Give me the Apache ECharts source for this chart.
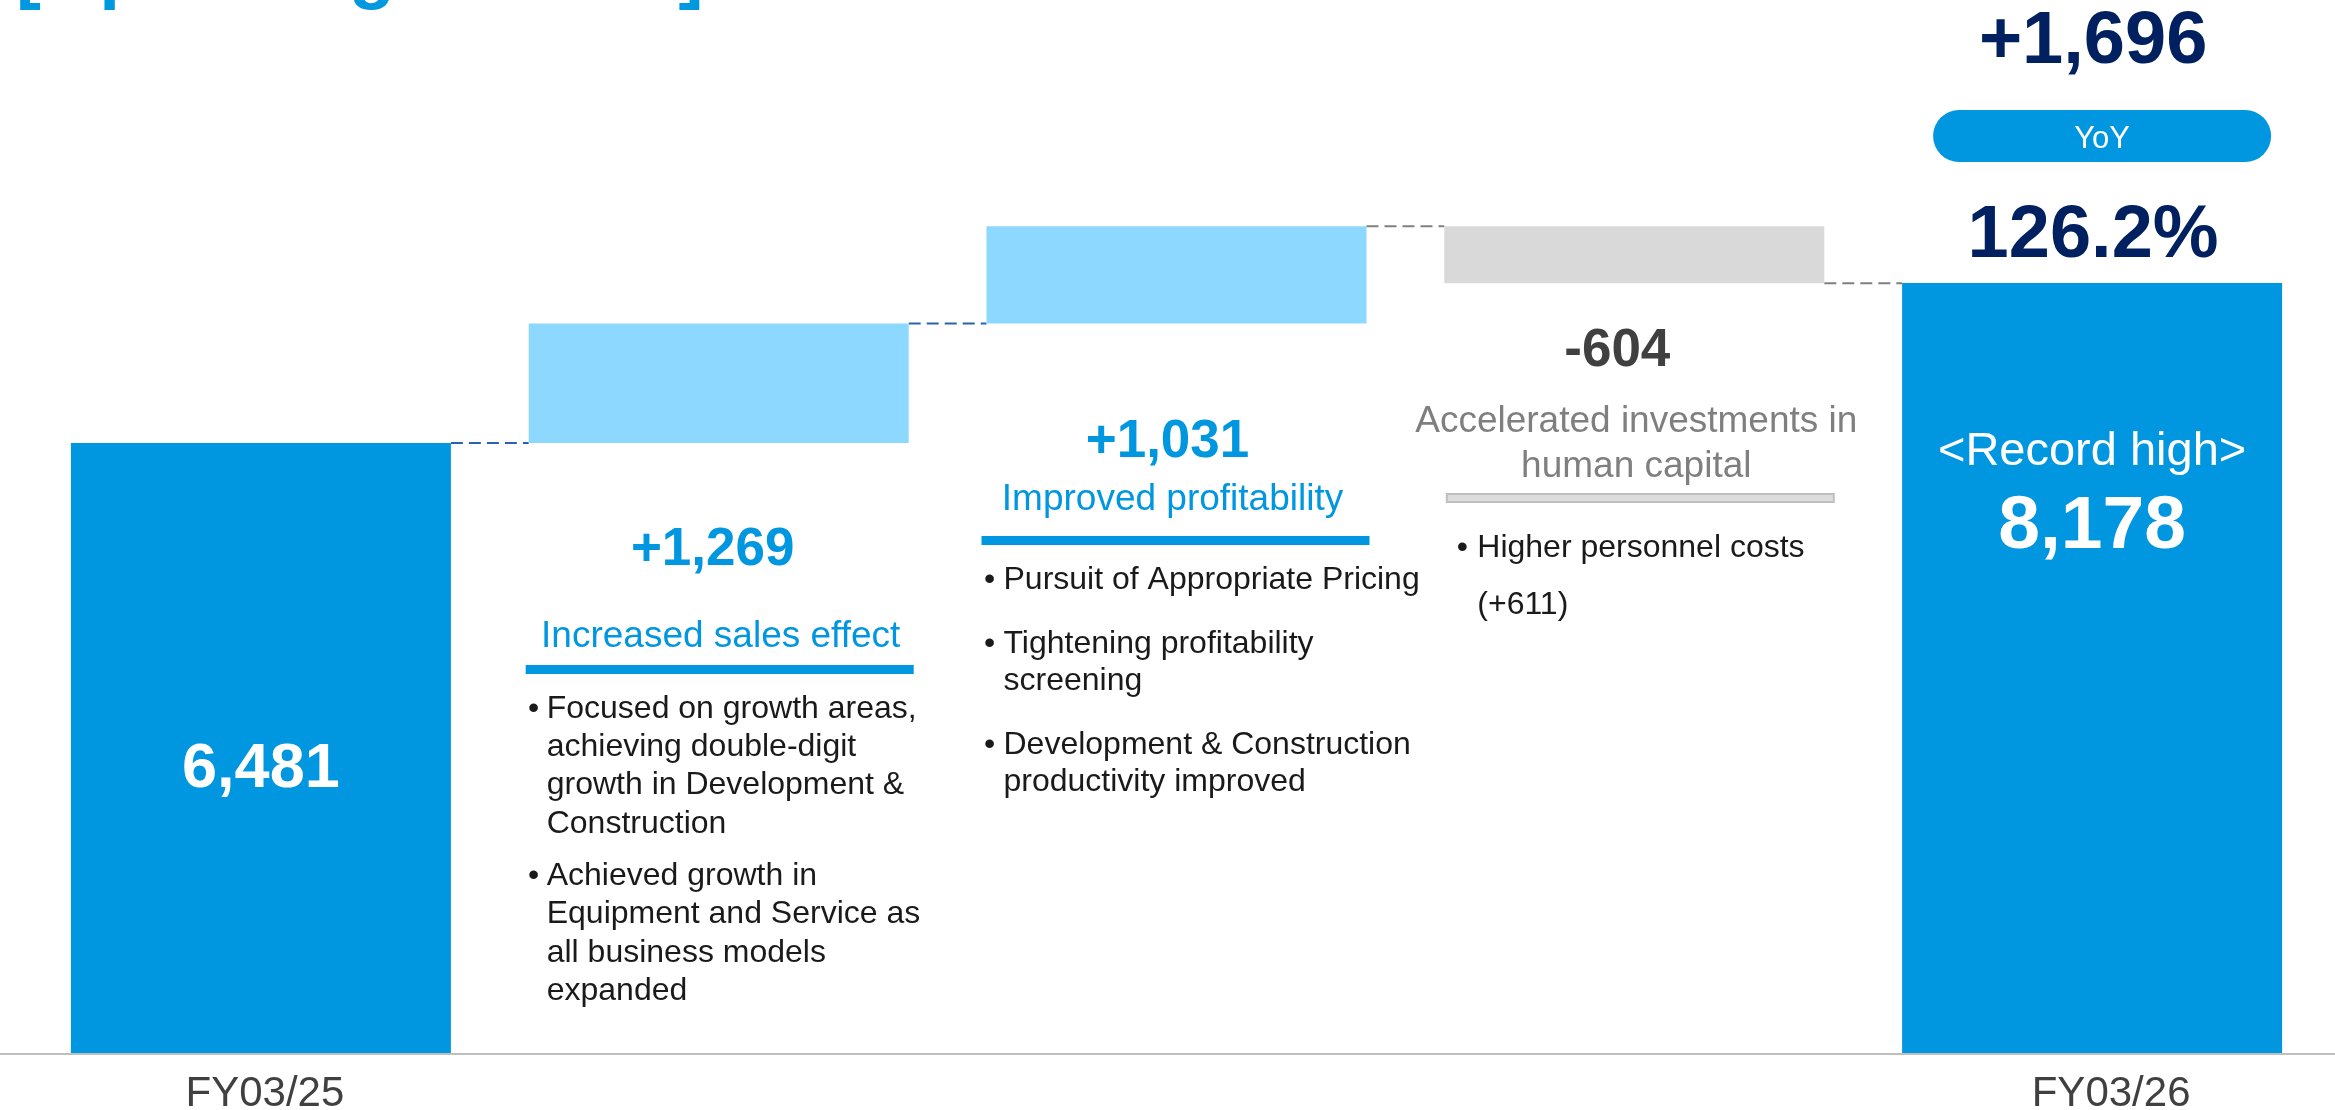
<!DOCTYPE html>
<html>
<head>
<meta charset="utf-8">
<script src="https://cdn.jsdelivr.net/npm/echarts@6/dist/echarts.min.js"></script>
<style>
  html, body { margin: 0; padding: 0; background: #ffffff; }
  #chart { width: 2335px; height: 1110px; }
</style>
</head>
<body>
<div id="chart"></div>
<script>
// ---- Operating income bridge, FY03/25 -> FY03/26 (units as reported) ----
const categories = ['FY03/25', 'Increased sales effect', 'Improved profitability',
                    'Accelerated investments in human capital', 'FY03/26'];
const startValue = 6481;
const deltas = [1269, 1031, -604];
const endValue = 8178;

const deltaLabels = ['+1,269', '+1,031', '-604'];
const driverTitles = [
  ['Increased sales effect'],
  ['Improved profitability'],
  ['Accelerated investments in', 'human capital']
];
const driverNotes = [
  [
    ['Focused on growth areas,', 'achieving double-digit', 'growth in Development &', 'Construction'],
    ['Achieved growth in', 'Equipment and Service as', 'all business models', 'expanded']
  ],
  [
    ['Pursuit of Appropriate Pricing'],
    ['Tightening profitability', 'screening'],
    ['Development & Construction', 'productivity improved']
  ],
  [
    ['Higher personnel costs', '(+611)']
  ]
];
const yoyChange = '+1,696';
const yoyLabel = 'YoY';
const yoyRatio = '126.2%';
const recordLabel = '<Record high>';
const pageTitle = '[Operating Income]';

// ---- look & layout ----
const FONT = "'Liberation Sans', Arial, Helvetica, sans-serif";
const BLUE = '#0096E0';
const LIGHT_BLUE = '#8DD8FE';
const GRAY_BAR = '#D9D9D9';
const NAVY = '#002060';
const BAR_WIDTH = 380;
const barColors = [BLUE, LIGHT_BLUE, LIGHT_BLUE, GRAY_BAR, BLUE];
const connectorColors = ['#2A62B0', '#2A62B0', '#808080', '#808080'];

// waterfall geometry derived from the values
const baseVals = [0];
const barVals = [startValue];
const levels = [startValue];
let running = startValue;
deltas.forEach(function (d) {
  if (d >= 0) { baseVals.push(running); barVals.push(d); running += d; }
  else { running += d; baseVals.push(running); barVals.push(-d); }
  levels.push(running);
});
baseVals.push(0);
barVals.push(endValue);

const fmt = v => Number(v).toLocaleString('en-US');
const lastIdx = categories.length - 1;

const chart = echarts.init(document.getElementById('chart'), null, { renderer: 'canvas' });

chart.setOption({
  animation: false,
  backgroundColor: '#ffffff',
  grid: { left: 32, right: 14, top: 17, bottom: 56, containLabel: false, outerBoundsMode: 'none' },
  xAxis: {
    type: 'category',
    data: categories,
    axisLine: { show: false },
    axisTick: { show: false },
    splitLine: { show: false },
    axisLabel: {
      interval: 0,
      margin: 19,
      fontSize: 42,
      fontFamily: FONT,
      color: '#404040',
      formatter: (v, i) => i === 0 ? '{a|' + v + '}' : (i === lastIdx ? '{b|' + v + '}' : ''),
      rich: {
        a: { fontSize: 42, fontFamily: FONT, color: '#404040', padding: [0, 0, 0, 8] },
        b: { fontSize: 42, fontFamily: FONT, color: '#404040', padding: [0, 0, 0, 38] }
      }
    }
  },
  yAxis: { type: 'value', min: 0, max: 11000, show: false, splitLine: { show: false } },
  series: [
    {
      name: 'base',
      type: 'bar',
      stack: 'bridge',
      barWidth: BAR_WIDTH,
      silent: true,
      itemStyle: { color: 'rgba(0,0,0,0)' },
      data: baseVals
    },
    {
      name: 'value',
      type: 'bar',
      stack: 'bridge',
      barWidth: BAR_WIDTH,
      label: {
        show: false,
        color: '#ffffff',
        fontFamily: FONT,
        formatter: p => p.dataIndex === lastIdx
          ? '{r|' + recordLabel + '}\n{v|' + fmt(p.value) + '}'
          : fmt(p.value),
        rich: {
          r: { fontSize: 47, lineHeight: 70, color: '#ffffff', fontFamily: FONT },
          v: { fontSize: 75, lineHeight: 80, fontWeight: 'bold', color: '#ffffff', fontFamily: FONT }
        }
      },
      data: barVals.map(function (v, i) {
        const item = { value: v, itemStyle: { color: barColors[i] } };
        if (i === 0) {
          item.label = { show: true, position: 'inside', offset: [0, 21], fontSize: 63, fontWeight: 'bold', color: '#ffffff', fontFamily: FONT };
        } else if (i === lastIdx) {
          item.label = { show: true, position: 'insideTop', distance: 134, align: 'center' };
        }
        return item;
      })
    },
    {
      name: 'connectors',
      type: 'custom',
      silent: true,
      data: levels.map((v, i) => [i, v]),
      renderItem: function (params, api) {
        const p = api.coord([api.value(0), api.value(1)]);
        const band = api.size([1, 0])[0];
        const half = BAR_WIDTH / 2;
        return {
          type: 'line',
          shape: { x1: p[0] + half, y1: p[1], x2: p[0] + band - half, y2: p[1] },
          style: { stroke: connectorColors[params.dataIndex], lineWidth: 2, lineDash: [12, 6] }
        };
      }
    }
  ]
});

// ---- annotations placed from the axis scales ----
// y is the vertical middle of the capital letters
function txt(x, y, text, size, color, weight, align) {
  const a = align || 'center';
  return {
    type: 'text', x: x, y: y + 0.075 * size, silent: true, z: 10,
    style: {
      text: text, fontSize: size, fontFamily: FONT, fontWeight: weight || 'normal', fill: color,
      align: a, verticalAlign: 'middle', textAlign: a, textVerticalAlign: 'middle'
    }
  };
}
// text with its alphabetic baseline at "base"
function onBase(x, base, text, size, color, weight, align) {
  return txt(x, base - 0.36 * size, text, size, color, weight, align);
}

const W = chart.getWidth();
const cx = i => chart.convertToPixel({ xAxisIndex: 0 }, i);
const yZero = chart.convertToPixel({ yAxisIndex: 0 }, 0);

const noteLayout = [
  { deltaDx: -6, deltaY: 546, titleDx: 2, titleBase: [647], titleColor: BLUE,
    rule: { dx: 1, y: 665, w: 388, h: 9, fill: BLUE, stroke: null },
    bulletDx: 5, textDx: 18, noteBase: 718, step: 38.3, gap: 14, deltaColor: BLUE },
  { deltaDx: -9, deltaY: 438, titleDx: -4, titleBase: [510], titleColor: BLUE,
    rule: { dx: -1, y: 536, w: 388, h: 9, fill: BLUE, stroke: null },
    bulletDx: 3, textDx: 17, noteBase: 589, step: 37, gap: 27, deltaColor: BLUE },
  { deltaDx: -17, deltaY: 347, titleDx: 2, titleBase: [432, 477], titleColor: '#7F7F7F',
    rule: { dx: 6, y: 494, w: 387, h: 8, fill: '#DCDCDC', stroke: '#BFBFBF' },
    bulletDx: 18, textDx: 33, noteBase: 557, step: 57, gap: 0, deltaColor: '#404040' }
];

const graphics = [];

// page heading (top edge of the slide)
graphics.push(onBase(16, -4, pageTitle, 75, '#0098DF', 'bold', 'left'));

// baseline across the full width
graphics.push({
  type: 'line', silent: true, z: 5,
  shape: { x1: 0, y1: yZero, x2: W, y2: yZero },
  style: { stroke: '#BFBFBF', lineWidth: 2 }
});

// driver columns
noteLayout.forEach(function (L, k) {
  const idx = k + 1;
  const c = cx(idx);
  const left = c - BAR_WIDTH / 2;
  graphics.push(txt(c + L.deltaDx, L.deltaY, deltaLabels[k], 53, L.deltaColor, 'bold'));
  driverTitles[k].forEach(function (line, j) {
    graphics.push(onBase(c + L.titleDx, L.titleBase[j], line, 37, L.titleColor));
  });
  graphics.push({
    type: 'rect', silent: true, z: 10,
    shape: { x: c + L.rule.dx - L.rule.w / 2, y: L.rule.y, width: L.rule.w, height: L.rule.h },
    style: { fill: L.rule.fill, stroke: L.rule.stroke, lineWidth: L.rule.stroke ? 2 : 0 }
  });
  let base = L.noteBase;
  driverNotes[k].forEach(function (para) {
    graphics.push(onBase(left + L.bulletDx, base, '\u2022', 32, '#1A1A1A', 'normal', 'center'));
    para.forEach(function (line) {
      graphics.push(onBase(left + L.textDx, base, line, 32, '#1A1A1A', 'normal', 'left'));
      base += L.step;
    });
    base += L.gap;
  });
});

// year-on-year call-out above the final bar
const cEnd = cx(lastIdx);
graphics.push(txt(cEnd + 1, 37, yoyChange, 74, NAVY, 'bold'));
graphics.push({
  type: 'rect', silent: true, z: 10,
  shape: { x: cEnd + 10 - 169, y: 110, width: 338, height: 52, r: 26 },
  style: { fill: BLUE }
});
graphics.push(txt(cEnd + 10, 137, yoyLabel, 31, '#ffffff', 'normal'));
graphics.push(txt(cEnd + 1, 231, yoyRatio, 74, NAVY, 'bold'));

chart.setOption({ graphic: { elements: graphics } });
</script>
</body>
</html>
